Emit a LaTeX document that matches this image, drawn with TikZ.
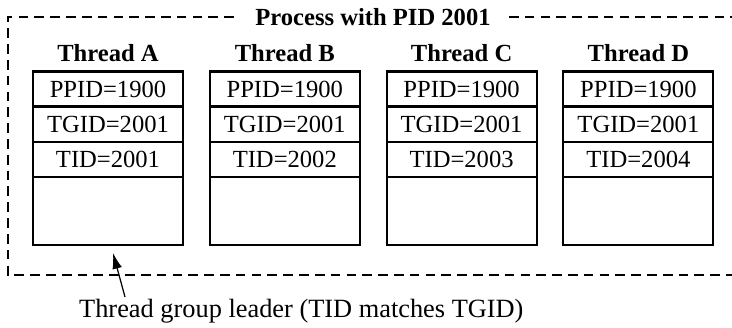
\documentclass[tikz,border=0pt]{standalone}
\usepackage{fontspec}
\setmainfont{Liberation Serif}
\usetikzlibrary{positioning,arrows.meta}
\tikzset{
  cell/.style={draw, line width=0.6pt, minimum width=2.98cm, minimum height=0.68cm,
    inner sep=0pt, font=\fontsize{14}{16}\selectfont},
  spare/.style={cell, minimum height=1.34cm},
  title/.style={font=\fontsize{14}{16}\selectfont\bfseries},
  procline/.style={line width=1.2pt, dash pattern=on 5.5pt off 3.5pt},
}
\begin{document}
\begin{tikzpicture}
  \useasboundingbox (0,0) rectangle (14.64,-6.56);
  % process frame, open on the right
  \draw[procline] (14.8,-0.34) -- (0.16,-0.34) -- (0.16,-5.50) -- (14.8,-5.50);
  \node[title, fill=white, inner xsep=9pt] (proc) at (7.46,-0.34) {Process with PID 2001};
  % one column per thread
  \foreach \t/\tid [count=\i from 0] in {A/2001,B/2002,C/2003,D/2004} {
    \node[cell] (ppid\t) at (2.16+3.536*\i,-1.78) {PPID=1900};
    \node[cell, below=0pt of ppid\t] (tgid\t) {TGID=2001};
    \node[cell, below=0pt of tgid\t] (tid\t) {TID=\tid};
    \node[spare, below=0pt of tid\t] (rest\t) {};
    \draw[line width=1.2pt] (ppid\t.north west) rectangle (rest\t.south east);
    \node[title, above=0.08cm of ppid\t] (name\t) {Thread \t};
  }
  % leader note
  \node[anchor=west, font=\fontsize{15}{17}\selectfont] (lead) at (1.46,-6.22)
    {Thread group leader (TID matches TGID)};
  \coordinate (leadtail) at (2.50,-5.94);
  \coordinate (leadtip) at (2.26,-5.06);
  \draw[line width=0.7pt, -{Latex[length=9pt,width=5.5pt]}] (leadtail) -- (leadtip);
\end{tikzpicture}
\end{document}
